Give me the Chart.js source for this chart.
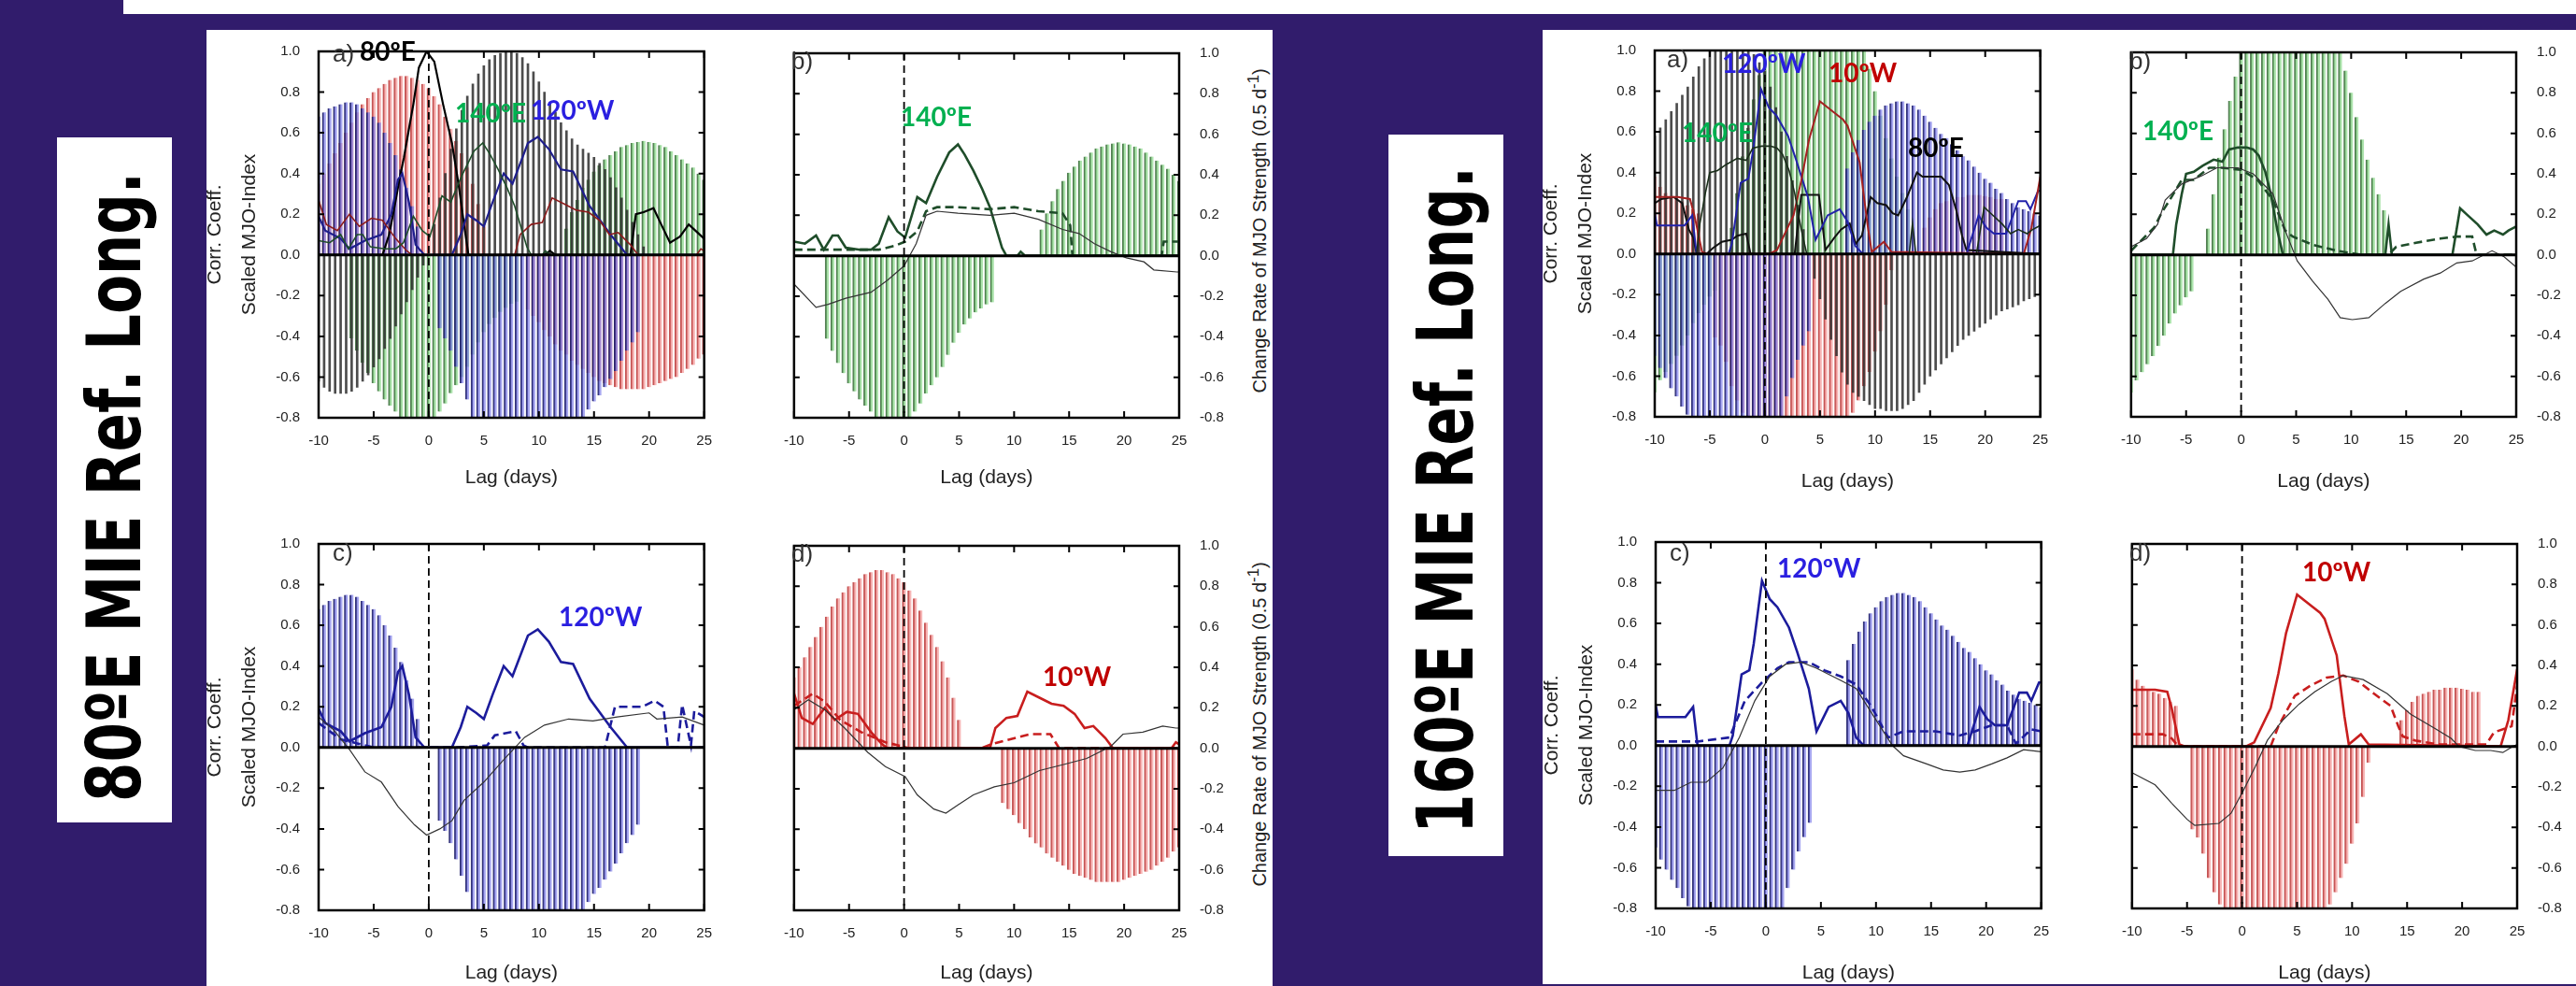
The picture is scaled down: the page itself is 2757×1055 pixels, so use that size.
<!DOCTYPE html>
<html>
<head>
<meta charset="UTF-8" />
<title>MJO lag correlation panels</title>
<script src="https://cdn.jsdelivr.net/npm/chart.js@4.4.0/dist/chart.umd.min.js"></script>
<style>
  body { margin: 0; width: 2757px; height: 1055px; overflow: hidden; position: relative;
         background: #311c6c; font-family: "Liberation Sans", Arial, sans-serif; }
  .box { position: absolute; background: #fff; }
  canvas { position: absolute; }
  .tag { position: absolute; font-family: Lato, sans-serif; font-weight: bold; font-size: 28px;
         line-height: 1; white-space: nowrap; z-index: 2; }
  .letter { position: absolute; font-size: 26px; color: #333; line-height: 1; z-index: 2; }
  .side { position: absolute; font-family: "DejaVu Sans", sans-serif; font-weight: bold; line-height: 1;
          white-space: nowrap; color: #000; transform: translate(-50%, -50%) rotate(-90deg); }
  .rtitle { position: absolute; font-size: 20px; color: #222; white-space: nowrap; line-height: 1;
            transform: translate(-50%, -50%) rotate(-90deg); }
</style>
</head>
<body>

<div class="box" style="left:132px;top:0;width:2625px;height:15px"></div>
<div class="box" style="left:221px;top:32px;width:1141px;height:1023px"></div>
<div class="box" style="left:1651px;top:32px;width:1106px;height:1021px"></div>
<div class="box" style="left:61px;top:147px;width:123px;height:733px"></div>
<div class="box" style="left:1486px;top:144px;width:123px;height:772px"></div>

<div class="side" id="side80" style="left:123px;top:521px;font-size:80px">80ºE MIE Ref. Long.</div>
<div class="side" id="side160" style="left:1547px;top:535px;font-size:84px">160ºE MIE Ref. Long.</div>

<div id="charts"></div>

<div class="rtitle" style="left:1346px;top:247px">Change Rate of MJO Strength (0.5 d<sup>-1</sup>)</div>
<div class="rtitle" style="left:1346px;top:775px">Change Rate of MJO Strength (0.5 d<sup>-1</sup>)</div>

<div class="letter" style="left:356px;top:44px">a)</div>
<div class="letter" style="left:847px;top:52px">b)</div>
<div class="letter" style="left:356px;top:578px">c)</div>
<div class="letter" style="left:847px;top:579px">d)</div>
<div class="letter" style="left:1784px;top:50px">a)</div>
<div class="letter" style="left:2279px;top:52px">b)</div>
<div class="letter" style="left:1787px;top:578px">c)</div>
<div class="letter" style="left:2279px;top:578px">d)</div>

<div class="tag" style="left:385px;top:40px;color:#000">80ºE</div>
<div class="tag" style="left:487px;top:106px;color:#00b050">140ºE</div>
<div class="tag" style="left:568px;top:103px;color:#2a1fe0">120ºW</div>
<div class="tag" style="left:964px;top:110px;color:#00b050">140ºE</div>
<div class="tag" style="left:598px;top:645px;color:#2a1fe0">120ºW</div>
<div class="tag" style="left:1116px;top:709px;color:#c00000">10ºW</div>
<div class="tag" style="left:1843px;top:53px;color:#2a1fe0">120ºW</div>
<div class="tag" style="left:1957px;top:63px;color:#c00000">10ºW</div>
<div class="tag" style="left:1800px;top:127px;color:#00b050">140ºE</div>
<div class="tag" style="left:2042px;top:143px;color:#000">80ºE</div>
<div class="tag" style="left:2293px;top:125px;color:#00b050">140ºE</div>
<div class="tag" style="left:1902px;top:593px;color:#2a1fe0">120ºW</div>
<div class="tag" style="left:2464px;top:597px;color:#c00000">10ºW</div>

<script>
// ---------- data ----------
// lag axis for the hatched envelopes: -10 .. 25 every half day (71 values)
const lagHalf = [];
for (let i = 0; i <= 70; i++) lagHalf.push(-10 + i / 2);

const xTicks = [-10, -5, 0, 5, 10, 15, 20, 25];
const yTicks = [-0.8, -0.6, -0.4, -0.2, 0.0, 0.2, 0.4, 0.6, 0.8, 1.0];

// ----- 80E reference longitude -----
const black80Bars = [
  -.62,-.65,-.67,-.68,-.68,-.68,-.67,-.65,-.62,-.59,
  -.55,-.51,-.46,-.41,-.35,-.29,-.23,-.17,-.11,-.05,
  null,.15,.28,.40,.52,.62,.71,.78,.84,.89,
  .93,.96,.98,.99,1.0,1.0,.99,.97,.94,.90,
  .85,.80,.75,.70,.65,.61,.57,.54,.52,.50,
  .48,.45,.42,.38,.33,.28,.22,.16,.10,.04,
  null,null,null,null,null,null,null,null,null,null,
  null];
const blue80Bars = [
  .68,.70,.72,.73,.74,.75,.75,.74,.72,.70,
  .68,.65,.60,.55,.49,.42,.33,.24,.14,null,
  null,null,-.36,-.41,-.47,-.55,-.63,-.71,-.80,-.84,
  -.88,-.91,-.93,-.95,-.96,-.97,-.97,-.97,-.96,-.95,
  -.94,-.92,-.90,-.88,-.86,-.85,-.83,-.82,-.80,-.76,
  -.72,-.69,-.65,-.61,-.57,-.52,-.47,-.43,-.38,null,
  null,null,null,null,null,null,null,null,null,null,
  null];
const red80Bars = [
  .35,.40,.45,.50,.55,.60,.65,.70,.74,.77,
  .80,.82,.84,.86,.87,.88,.88,.87,.86,.84,
  .82,.78,.74,.68,.62,.56,.50,.43,.35,.25,
  .14,null,null,null,null,null,null,null,-.27,-.30,
  -.33,-.37,-.40,-.44,-.47,-.49,-.52,-.54,-.56,-.58,
  -.60,-.62,-.63,-.64,-.65,-.66,-.66,-.66,-.66,-.66,
  -.65,-.64,-.63,-.62,-.61,-.60,-.58,-.56,-.54,-.51,
  -.49];
const green80Bars = [
  null,null,null,null,null,null,-.41,-.47,-.53,-.58,
  -.63,-.67,-.71,-.74,-.77,-.80,-.82,-.83,-.84,-.84,
  -.83,-.81,-.77,-.73,-.68,-.64,-.60,-.55,-.49,-.43,
  -.38,-.34,-.31,-.28,-.26,-.24,-.23,null,null,null,
  null,null,null,null,null,.13,.21,.27,.33,.37,
  .41,.44,.47,.49,.51,.53,.54,.55,.555,.56,
  .555,.55,.54,.53,.51,.49,.47,.45,.43,.40,
  .37];

// lines as [lag, value]
const black80Line = [[-10,0],[-4.2,0],[-3.6,.1],[-3.1,.24],[-2.7,.36],[-2.25,.48],[-1.8,.62],[-1.4,.74],
  [-0.9,.92],[-0.2,1.0],[0.5,.95],[1.3,.74],[2.1,.55],[2.7,.35],[3.2,.15],[3.6,0],[10.5,0],[11,.02],
  [11.5,0],[18.3,0],[18.8,.2],[19.5,.21],[20.4,.23],[21.1,.15],[21.9,.06],[22.8,.09],[23.6,.15],[24.4,.11],[25,.08]];
const green80Solid = [[-10,.07],[-9,.06],[-8,.10],[-7.3,.03],[-6.5,.1],[-6,.1],[-5.3,.04],[-4,.03],[-3,.03],
  [-2.3,.06],[-1.4,.19],[-0.6,.12],[0.1,.09],[1.2,.29],[2,.26],[3,.39],[4.1,.51],[4.9,.55],[5.5,.5],[6.3,.42],
  [7.1,.33],[7.8,.24],[8.9,.04],[9.3,0],[10.3,0],[10.6,.02],[11,0],[25,0]];
const green80Dashed = [[-10,.03],[-2.3,.03],[-0.8,.05],[0.1,.07],[1.2,.12],[2,.22],[3,.24],[4.9,.24],[7.8,.23],
  [10,.24],[12.2,.22],[14.4,.21],[15.1,.15],[15.3,0],[23.4,0],[23.6,.07],[25,.07]];
const green80Thin = [[-10,-.14],[-8,-.255],[-6.9,-.24],[-5.3,-.21],[-3,-.18],[-1.5,-.12],[0,-.05],[1.1,.06],
  [2,.2],[3,.22],[4.9,.21],[7.8,.2],[10,.21],[12.2,.18],[14.4,.13],[15.9,.11],[17.3,.06],[18.8,.02],
  [20.2,-.01],[21.8,-.03],[22.7,-.07],[24.8,-.08],[25,-.08]];
const blue80Solid = [[-10,.19],[-9.4,.12],[-8,.08],[-7.2,.03],[-5.8,.07],[-4.3,.1],[-3.4,.2],[-2.8,.37],
  [-2.4,.4],[-1.8,.26],[-1.2,.05],[-0.4,0],[2.1,0],[2.9,.1],[3.5,.2],[4.3,.17],[5,.14],[5.8,.26],[6.8,.4],
  [7.6,.35],[9,.55],[9.9,.58],[10.9,.52],[12,.42],[13.1,.41],[14.6,.24],[16.5,.1],[18,0],[25,0]];
const blue80Dashed = [[-10,.12],[-9,.08],[-8,.04],[-6.5,.02],[-5,0],[2.5,0],[5.3,.01],[6,.06],[7.9,.08],
  [8.6,.01],[9,0],[16,0],[16.9,.2],[19.4,.2],[20.5,.23],[21.3,.2],[21.7,0],[22.6,0],[23,.21],[23.8,.01],
  [24.1,.18],[25,.15]];
const blue80Thin = [[-10,.15],[-8.7,.09],[-7.2,-.01],[-5.8,-.12],[-4.3,-.17],[-2.8,-.29],[-1.3,-.38],
  [-0.2,-.43],[1,-.4],[2.1,-.36],[3.2,-.26],[5,-.17],[6.8,-.06],[8.7,.05],[10.5,.11],[12.7,.14],[14.9,.13],
  [17.1,.15],[20,.17],[20.7,.14],[23,.15],[25,.11]];
const red80Solid = [[-10,.27],[-9.3,.15],[-8.3,.12],[-7.2,.2],[-6.3,.14],[-5.2,.18],[-4.2,.17],[-3,.08],
  [-2,.02],[-1.5,0],[7.8,0],[8.3,.1],[9.3,.15],[10.3,.16],[11.2,.28],[12.3,.25],[13.4,.22],[14.5,.21],
  [15.5,.17],[16.4,.1],[17.2,.11],[18.3,.05],[19,0],[24.3,0],[24.7,.03],[25,.02]];
const red80Dashed = [[-10,.21],[-8.3,.27],[-7.2,.23],[-5.8,.14],[-3.9,.08],[-1.7,.03],[0.5,0],[7,0],
  [7.9,.02],[9.3,.04],[11.5,.07],[13.3,.07],[14.1,0],[25,0]];
const red80Thin = [[-10,.19],[-8.7,.24],[-7.2,.19],[-5.4,.1],[-3.3,-.02],[-1.7,-.09],[0.1,-.14],[1.2,-.23],
  [2.7,-.3],[3.8,-.32],[4.9,-.28],[6.3,-.23],[8.2,-.19],[10,-.17],[12.3,-.11],[14.5,-.08],[16.6,-.05],
  [18.8,.01],[19.9,.07],[21.7,.08],[23.5,.11],[24.7,.1],[25,.1]];

// ----- 160E reference longitude -----
const black160Bars = [
  .58,.62,.66,.70,.74,.78,.82,.87,.92,.96,
  1.0,1.03,1.05,1.06,1.06,1.05,1.03,1.01,.98,.94,
  .90,.82,.72,.60,.48,.36,.24,.12,null,-.12,
  -.22,-.32,-.42,-.50,-.58,-.64,-.68,-.70,-.72,-.74,
  -.76,-.76,-.77,-.77,-.77,-.76,-.74,-.72,-.68,-.64,
  -.60,-.57,-.54,-.51,-.48,-.45,-.42,-.40,-.38,-.36,
  -.34,-.32,-.30,-.28,-.27,-.26,-.25,-.23,-.22,-.21,
  -.20];
const blue160Bars = [
  -.50,-.56,-.61,-.66,-.70,-.75,-.79,-.83,-.86,-.89,
  -.93,-.95,-.96,-.97,-.97,-.97,-.96,-.95,-.94,-.92,
  -.90,-.88,-.85,-.80,-.70,-.61,-.52,-.45,-.38,null,
  null,null,null,null,null,.42,.50,.56,.61,.65,
  .68,.71,.73,.74,.75,.75,.74,.73,.71,.68,
  .65,.62,.59,.57,.54,.51,.48,.46,.43,.40,
  .37,.35,.32,.30,.27,.25,.23,.22,.21,.20,
  .19];
const red160Bars = [
  .38,.33,.30,.28,.27,.26,.24,.22,.20,null,
  null,-.41,-.45,-.53,-.65,-.72,-.78,-.84,-.88,-.92,
  -.95,-.97,-.98,-.99,-1.0,-1.0,-1.0,-.99,-.98,-.97,
  -.95,-.93,-.91,-.88,-.85,-.82,-.78,-.72,-.65,-.58,
  -.48,-.38,-.25,-.08,null,null,null,null,null,.13,
  .18,.22,.25,.26,.27,.28,.28,.29,.29,.29,
  .285,.28,.27,.27,null,null,null,null,null,null,
  null];
const green160Bars = [
  -.68,-.62,-.58,-.54,-.50,-.45,-.40,-.34,-.29,-.25,
  -.21,-.18,null,null,.13,.30,.48,.62,.76,.88,
  1.0,1.1,1.15,1.2,1.22,1.23,1.24,1.24,1.24,1.23,
  1.22,1.21,1.19,1.17,1.14,1.11,1.08,1.04,1.0,.91,
  .80,.68,.57,.47,.38,.30,.22,null,null,null,
  null,null,null,null,null,null,null,null,null,null,
  null,null,null,null,null,null,null,null,null,null,
  null];

const black160Line = [[-10,.25],[-9.4,.27],[-8.3,.28],[-7.5,.25],[-6.9,.12],[-6.5,.08],[-6.2,0],[-5.3,0],
  [-4.7,.03],[-3.9,.06],[-3,.07],[-2.5,.09],[-1.7,.1],[-1.3,0],[2.7,0],[3.3,.29],[4.9,.29],[5.5,.02],
  [6.3,.08],[6.9,.12],[7.7,.15],[8.25,.05],[8.8,.09],[9.6,.28],[10.2,.25],[11,.24],[11.6,.2],[12.1,.19],
  [12.9,.28],[13.8,.4],[14.3,.38],[16,.38],[16.7,.34],[17.35,.22],[17.9,.09],[18.3,.02],[25,0]];
const green160Solid = [[-10,0],[-6.2,0],[-5.9,.15],[-5.4,.3],[-5,.4],[-4.3,.41],[-3.5,.44],[-2.5,.47],
  [-1.7,.46],[-1.1,.52],[-0.3,.53],[0.5,.53],[1.1,.52],[1.6,.49],[2.2,.41],[2.7,.3],[3.3,.12],[3.8,0],
  [13.1,0],[13.4,.15],[13.7,0],[19.2,0],[19.9,.23],[20.5,.2],[21.5,.15],[22.3,.1],[23,.12],[23.8,.1],
  [24.3,.12],[25,.14]];
const green160Dashed = [[-10,.02],[-7.9,.135],[-7.2,.21],[-6.5,.27],[-5.4,.37],[-4.3,.37],[-2.9,.43],
  [-1.8,.43],[0,.42],[1.5,.37],[2.9,.27],[4,.12],[4.7,.09],[6.5,.05],[8.7,.02],[10.9,0],[13.4,0],[14.1,.04],
  [15.9,.06],[18.1,.08],[19.6,.09],[21,.09],[21.4,0],[25,0]];
const green160Thin = [[-10,.04],[-8.6,.08],[-7.6,.15],[-6.9,.27],[-5.4,.35],[-3.6,.39],[-2.2,.43],[-0.3,.43],
  [1.1,.4],[2.9,.3],[4,.12],[5.1,-.03],[6.5,-.13],[7.9,-.22],[9,-.31],[10.1,-.32],[11.6,-.31],[13.1,-.24],
  [14.5,-.18],[16.6,-.12],[18.1,-.09],[19.6,-.04],[21,-.03],[22.8,.02],[23.9,-.01],[25,-.06]];
const blue160Solid = [[-10,.2],[-9.8,.14],[-7.3,.14],[-6.6,.19],[-6.2,0],[-3.3,0],[-3,.05],[-2.2,.35],
  [-1.5,.37],[-1.1,.5],[-0.35,.81],[0.35,.72],[1.05,.68],[2.1,.58],[2.85,.46],[3.9,.28],[4.6,.07],[5.7,.19],
  [6.8,.22],[7.5,.16],[8.2,.04],[8.9,0],[18.3,0],[19.4,.19],[20.1,.13],[20.8,.1],[21.9,.1],[23,.26],
  [23.7,.26],[24.1,.22],[24.8,.31],[25,.31]];
const blue160Dashed = [[-10,.02],[-6.2,.02],[-3.3,.04],[-1.9,.22],[-0.35,.31],[1.05,.38],[2.1,.41],[3.9,.41],
  [5.3,.37],[6.8,.34],[8.2,.3],[9.6,.19],[11.1,.04],[12.5,.07],[15.4,.07],[17.6,.05],[19,.07],[20.5,.1],
  [21.9,.1],[22.7,.01],[24.1,.08],[25,.07]];
const blue160Thin = [[-10,-.22],[-8.3,-.22],[-6.8,-.18],[-5.4,-.18],[-3.9,-.11],[-2.4,.04],[-1,.22],[0.35,.34],
  [1.8,.4],[3.2,.41],[4.6,.38],[6.8,.32],[8.2,.28],[9.6,.16],[11.5,0],[12.5,-.05],[14.6,-.09],[16.1,-.12],
  [17.6,-.13],[19,-.12],[20.5,-.09],[21.9,-.06],[23.4,-.02],[25,-.03]];
const red160Solid = [[-10,.28],[-7.9,.28],[-6.8,.27],[-6.4,.19],[-5.7,.01],[-5.2,0],[0.35,0],[1.1,.02],
  [2.6,.19],[3.3,.36],[4,.56],[5,.75],[6.4,.69],[7.1,.66],[7.5,.63],[8.6,.45],[9.3,.15],[9.7,.01],[10.8,.06],
  [11.5,.01],[23.5,0],[24.2,.13],[25,.38]];
const red160Dashed = [[-10,.06],[-7.2,.06],[-6.4,.04],[-5.8,0],[2.6,0],[3.3,.1],[4.8,.25],[6.2,.3],[7.7,.34],
  [9.2,.35],[10.6,.32],[12,.26],[13.5,.2],[14.2,.1],[14.6,.05],[15.7,.03],[17.8,.01],[22.2,.01],[22.9,.07],
  [24,.09],[24.5,.1],[25,.3]];
const red160Thin = [[-10,-.13],[-7.9,-.19],[-6.4,-.28],[-5,-.36],[-4.3,-.39],[-2.1,-.38],[-1,-.33],[0.1,-.22],
  [1.2,-.1],[2.3,.03],[3.7,.13],[5.2,.21],[6.6,.27],[8.1,.32],[9.2,.35],[11,.33],[13.2,.26],[15.3,.16],
  [17.5,.09],[19,.04],[19.7,0],[21.2,-.02],[22.6,-.02],[23.7,-.03],[24.6,0],[25,.01]];

// ---------- styles ----------
const hatch = {
  black: { backgroundColor: 'rgba(45,45,45,0.85)', borderColor: 'rgba(0,0,0,0)', barThickness: 2 },
  blue:  { backgroundColor: 'rgba(115,115,230,0.62)', borderColor: 'rgba(30,30,105,0.9)', barThickness: 4 },
  red:   { backgroundColor: 'rgba(242,135,135,0.6)', borderColor: 'rgba(185,55,55,0.85)', barThickness: 4 },
  green: { backgroundColor: 'rgba(125,212,125,0.62)', borderColor: 'rgba(40,95,40,0.8)', barThickness: 4 }
};

function bars(vals, kind) {
  const h = hatch[kind];
  return {
    type: 'bar', order: 2, grouped: false,
    data: vals.map((v, i) => ({ x: lagHalf[i], y: v })),
    backgroundColor: h.backgroundColor, borderColor: h.borderColor,
    borderWidth: { left: kind === 'black' ? 0 : 1.6, right: 0, top: 0, bottom: 0 },
    barThickness: h.barThickness, maxBarThickness: 4
  };
}

function line(pairs, color, width, dash) {
  return {
    type: 'line', order: 1,
    data: pairs.map(p => ({ x: p[0], y: p[1] })),
    borderColor: color, borderWidth: width, borderDash: dash || [],
    pointRadius: 0, fill: false, tension: 0
  };
}

// frame, zero line, lag-0 line and inward ticks
const framePlugin = {
  id: 'frame',
  afterDatasetsDraw(chart) {
    const { ctx, chartArea: a, scales: { x, y } } = chart;
    ctx.save();
    ctx.strokeStyle = '#000';
    const y0 = y.getPixelForValue(0);
    ctx.lineWidth = 3;
    ctx.beginPath(); ctx.moveTo(a.left, y0); ctx.lineTo(a.right, y0); ctx.stroke();
    const x0 = x.getPixelForValue(0);
    ctx.lineWidth = 1.8;
    ctx.setLineDash([8, 5]);
    ctx.beginPath(); ctx.moveTo(x0, a.top); ctx.lineTo(x0, a.bottom); ctx.stroke();
    ctx.setLineDash([]);
    ctx.lineWidth = 2;
    ctx.beginPath();
    x.ticks.forEach(t => {
      const px = x.getPixelForValue(t.value);
      ctx.moveTo(px, a.top); ctx.lineTo(px, a.top + 7);
      ctx.moveTo(px, a.bottom); ctx.lineTo(px, a.bottom - 7);
    });
    y.ticks.forEach(t => {
      const py = y.getPixelForValue(t.value);
      ctx.moveTo(a.left, py); ctx.lineTo(a.left + 6, py);
      ctx.moveTo(a.right, py); ctx.lineTo(a.right - 6, py);
    });
    ctx.stroke();
    ctx.lineWidth = 2.5;
    ctx.strokeRect(a.left, a.top, a.width, a.height);
    ctx.restore();
  }
};

Chart.defaults.font.family = '"Liberation Sans", Arial, sans-serif';

function makePanel(p) {
  const leftAxis = p.side === 'left';
  const padL = leftAxis ? 0 : 14, padR = leftAxis ? 12 : 0, padT = 12;
  const yW = leftAxis ? 130 : 60;
  const plotW = p.right - p.left, plotH = p.bottom - p.top;
  const cv = document.createElement('canvas');
  const cLeft = leftAxis ? p.left - yW : p.left - padL;
  const cW = leftAxis ? yW + plotW + padR : padL + plotW + yW;
  const cH = padT + plotH + p.xH;
  cv.width = cW; cv.height = cH;
  cv.style.left = cLeft + 'px';
  cv.style.top = (p.top - padT) + 'px';
  document.getElementById('charts').appendChild(cv);

  new Chart(cv, {
    type: 'bar',
    data: { datasets: p.datasets },
    options: {
      responsive: false, animation: false,
      layout: { padding: { top: padT, right: padR, left: padL, bottom: 0 } },
      plugins: { legend: { display: false }, tooltip: { enabled: false } },
      scales: {
        x: {
          type: 'linear', min: xTicks[0], max: xTicks[xTicks.length - 1], offset: false,
          afterBuildTicks: s => { s.ticks = xTicks.map(v => ({ value: v })); },
          ticks: { padding: 16, color: '#222', font: { size: 15 }, maxRotation: 0, autoSkip: false,
                   callback: v => String(v) },
          grid: { display: false, drawTicks: false }, border: { display: false },
          title: { display: true, text: 'Lag (days)', color: '#222', font: { size: 21 }, padding: 0 },
          afterFit: s => { s.height = p.xH; }
        },
        y: {
          position: p.side, min: yTicks[0], max: yTicks[yTicks.length - 1],
          afterBuildTicks: s => { s.ticks = yTicks.map(v => ({ value: v })); },
          ticks: { padding: leftAxis ? 20 : 22, color: '#222', font: { size: 15 },
                   callback: v => v.toFixed(1) },
          grid: { display: false, drawTicks: false }, border: { display: false },
          title: leftAxis
            ? { display: true, text: ['Corr. Coeff.', 'Scaled MJO-Index'], color: '#222',
                font: { size: 21, lineHeight: 1.8 }, padding: 0 }
            : { display: false },
          afterFit: s => { s.width = yW; }
        }
      }
    },
    plugins: [framePlugin]
  });
}

// ----- 80E panels -----
makePanel({ left: 341, right: 766, top: 38, bottom: 447, xH: 77, side: 'left', datasets: [
  bars(black80Bars, 'black'), bars(blue80Bars, 'blue'), bars(red80Bars, 'red'), bars(green80Bars, 'green'),
  line(green80Solid, '#1f4d2a', 1.6), line(red80Solid, '#8b1c1c', 1.6),
  line(blue80Solid, '#1e1e8c', 2.2), line(black80Line, '#000', 2.2)
]});
makePanel({ left: 837, right: 1262, top: 38, bottom: 447, xH: 77, side: 'right', datasets: [
  bars(green80Bars, 'green'),
  line(green80Thin, '#333', 1.2), line(green80Dashed, '#1f4d2a', 2.6, [9, 5]), line(green80Solid, '#1f4d2a', 2.6)
]});
makePanel({ left: 341, right: 766, top: 565, bottom: 974, xH: 80, side: 'left', datasets: [
  bars(blue80Bars, 'blue'),
  line(blue80Thin, '#333', 1.2), line(blue80Dashed, '#1c1c9c', 2.6, [9, 5]), line(blue80Solid, '#1c1c9c', 2.6)
]});
makePanel({ left: 837, right: 1262, top: 565, bottom: 974, xH: 80, side: 'right', datasets: [
  bars(red80Bars, 'red'),
  line(red80Thin, '#333', 1.2), line(red80Dashed, '#c81e1e', 2.6, [9, 5]), line(red80Solid, '#c81e1e', 2.6)
]});

// ----- 160E panels -----
makePanel({ left: 1771, right: 2196, top: 37, bottom: 446, xH: 82, side: 'left', datasets: [
  bars(black160Bars, 'black'), bars(blue160Bars, 'blue'), bars(red160Bars, 'red'), bars(green160Bars, 'green'),
  line(green160Solid, '#1a2e1a', 1.6), line(red160Solid, '#a52020', 2),
  line(blue160Solid, '#2222aa', 2), line(black160Line, '#111', 2)
]});
makePanel({ left: 2268, right: 2693, top: 37, bottom: 446, xH: 82, side: 'right', datasets: [
  bars(green160Bars, 'green'),
  line(green160Thin, '#333', 1.2), line(green160Dashed, '#1f4d2a', 2.6, [9, 5]), line(green160Solid, '#1f4d2a', 2.6)
]});
makePanel({ left: 1772, right: 2197, top: 563, bottom: 972, xH: 82, side: 'left', datasets: [
  bars(blue160Bars, 'blue'),
  line(blue160Thin, '#333', 1.2), line(blue160Dashed, '#1c1c9c', 2.6, [9, 5]), line(blue160Solid, '#1c1c9c', 2.6)
]});
makePanel({ left: 2269, right: 2694, top: 563, bottom: 972, xH: 82, side: 'right', datasets: [
  bars(red160Bars, 'red'),
  line(red160Thin, '#333', 1.2), line(red160Dashed, '#c81e1e', 2.6, [9, 5]), line(red160Solid, '#c81e1e', 2.6)
]});

// squeeze the big side labels to the length they have in the figure
function fitSide(id, len) {
  const el = document.getElementById(id);
  el.style.transform = 'translate(-50%, -50%) rotate(-90deg) scaleX(' + (len / el.offsetWidth) + ')';
}
function fitAll() { fitSide('side80', 674); fitSide('side160', 714); }
fitAll();
if (document.fonts) document.fonts.ready.then(fitAll);
</script>
</body>
</html>
